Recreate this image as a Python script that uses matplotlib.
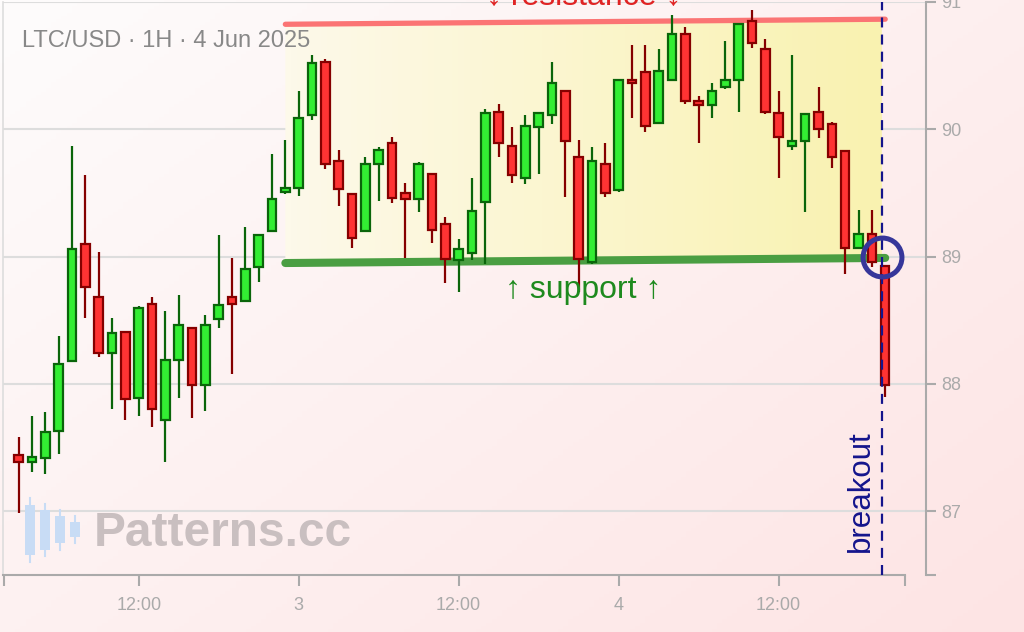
import matplotlib
matplotlib.use("Agg")
import matplotlib.pyplot as plt
import numpy as np
import pandas as pd
from matplotlib.patches import Polygon, Rectangle
from matplotlib.colors import LinearSegmentedColormap

plt.rcParams['font.family'] = ['Liberation Sans', 'DejaVu Sans']

# LTC/USD hourly candles, 2 Jun 03:00 -> 4 Jun 20:00 (2025)
times = pd.date_range("2025-06-02 03:00", periods=66, freq="h")
opens = [87.44, 87.39, 87.42, 87.63, 88.18, 89.10, 88.68, 88.24, 88.41, 87.89,
         88.63, 87.72, 88.19, 88.44, 87.99, 88.51, 88.68, 88.65, 88.92, 89.20,
         89.51, 89.54, 90.11, 90.53, 89.75, 89.49, 89.20, 89.73, 89.89, 89.50,
         89.45, 89.65, 89.26, 88.97, 89.03, 89.43, 90.14, 89.87, 89.62, 90.02,
         90.11, 90.30, 89.78, 88.96, 89.73, 89.52, 90.39, 90.45, 90.05, 90.39,
         90.75, 90.22, 90.19, 90.33, 90.39, 90.85, 90.63, 90.13, 89.87, 89.91,
         90.14, 90.04, 89.83, 89.07, 89.18, 88.93]
highs = [87.58, 87.75, 87.78, 88.38, 89.87, 89.64, 89.04, 88.52, 88.42, 88.61,
         88.68, 88.57, 88.70, 88.44, 88.54, 89.17, 88.99, 89.23, 89.17, 89.81,
         89.92, 90.30, 90.58, 90.55, 89.84, 89.50, 89.78, 89.86, 89.94, 89.58,
         89.74, 89.65, 89.31, 89.14, 89.62, 90.16, 90.20, 90.02, 90.11, 90.13,
         90.53, 90.30, 89.92, 89.86, 89.89, 90.39, 90.66, 90.66, 90.63, 90.90,
         90.80, 90.26, 90.36, 90.69, 90.83, 90.94, 90.71, 90.30, 90.58, 90.13,
         90.33, 90.06, 89.84, 89.37, 89.37, 88.93]
lows = [86.99, 87.31, 87.29, 87.45, 88.18, 88.52, 88.21, 87.80, 87.72, 87.75,
        87.66, 87.39, 87.89, 87.73, 87.79, 88.44, 88.08, 88.65, 88.80, 89.20,
        89.49, 89.48, 90.07, 89.69, 89.40, 89.07, 89.20, 89.44, 89.42, 88.99,
        89.35, 89.11, 88.79, 88.72, 88.97, 88.94, 89.78, 89.58, 89.57, 89.65,
        90.04, 89.47, 88.72, 88.94, 89.47, 89.51, 90.09, 89.98, 90.05, 90.38,
        90.20, 89.89, 90.09, 90.32, 90.14, 90.64, 90.12, 89.62, 89.84, 89.35,
        89.93, 89.70, 88.86, 89.07, 88.92, 87.90]
closes = [87.39, 87.43, 87.62, 88.16, 89.06, 88.76, 88.24, 88.40, 87.88, 88.60,
          87.80, 88.19, 88.46, 87.99, 88.46, 88.62, 88.63, 88.90, 89.17, 89.45,
          89.54, 90.09, 90.52, 89.73, 89.53, 89.15, 89.73, 89.84, 89.46, 89.45,
          89.73, 89.21, 88.98, 89.06, 89.36, 90.13, 89.89, 89.64, 90.03, 90.13,
          90.36, 89.91, 88.98, 89.75, 89.50, 90.39, 90.36, 90.03, 90.46, 90.75,
          90.22, 90.19, 90.30, 90.39, 90.83, 90.68, 90.14, 89.94, 89.91, 90.12,
          90.00, 89.78, 89.07, 89.18, 88.96, 87.99]

# channel lines (start at candle 20, end at last candle)
resistance = [90.825, 90.865]
support = [88.95, 88.99]
breakout_level = 89.0
y_ticks = [87, 88, 89, 90, 91]

day0 = pd.Timestamp("2025-06-03")
hrs = ((times - day0) / pd.Timedelta("1h")).to_numpy()
o = np.array(opens); h = np.array(highs); l = np.array(lows); c = np.array(closes)
up = c >= o

fig = plt.figure(figsize=(10.24, 6.32), dpi=100)

# background gradient
bg = fig.add_axes([0, 0, 1, 1], zorder=-10)
gx, gy = np.meshgrid(np.linspace(0, 1, 200), np.linspace(0, 1, 200))
g = np.clip(0.55 * gx + 0.45 * gy, 0, 1)
bg_cmap = LinearSegmentedColormap.from_list("bg", ["#fefcfc", "#fde4e4"])
bg.imshow(g, cmap=bg_cmap, aspect="auto", extent=(0, 1, 0, 1), origin="upper")
bg.axis("off")

ax = fig.add_axes([3 / 1024, 57 / 632, 923 / 1024, 573 / 632])
ax.set_facecolor("none")
x_lo, x_hi = -22.18, 47.06
ax.set_xlim(x_lo, x_hi)
ax.set_ylim(86.5, 91.0)

x_start = hrs[20]
x_end = hrs[-1]
brk_x = hrs[-1] - 0.25

# yellow channel fill
band = Polygon([(x_start, support[0]), (brk_x, np.interp(brk_x, [x_start, x_end], support)),
                (brk_x, np.interp(brk_x, [x_start, x_end], resistance)), (x_start, resistance[0])],
               closed=True, facecolor="none", edgecolor="none")
ax.add_patch(band)
ycmap = LinearSegmentedColormap.from_list("yl", ["#fdf9ea", "#f9f2b0"])
im = ax.imshow(np.linspace(0, 1, 100)[None, :], cmap=ycmap, aspect="auto",
               extent=(x_start, brk_x, 88.8, 91.0), zorder=1)
im.set_clip_path(band)

ax.grid(axis="y", color="#dddddd", linewidth=1.5, zorder=0)
ax.set_axisbelow(True)

# channel lines
ax.plot([x_start, x_end], resistance, color="#fb7474", lw=3.8, solid_capstyle="round", zorder=2)
ax.plot([x_start, x_end], support, color="#4a9e42", lw=5.8, solid_capstyle="round", zorder=2)

# candles
w = 0.64
ax.vlines(hrs[up], l[up], h[up], color="#0a650a", lw=1.6, zorder=3)
ax.vlines(hrs[~up], l[~up], h[~up], color="#850000", lw=1.6, zorder=3)
ax.bar(hrs[up], c[up] - o[up], bottom=o[up], width=w, color="#33ee33",
       edgecolor="#0a650a", linewidth=1.6, zorder=4)
ax.bar(hrs[~up], o[~up] - c[~up], bottom=c[~up], width=w, color="#ff3333",
       edgecolor="#850000", linewidth=1.6, zorder=4)

# breakout marker
ax.axvline(brk_x, color="#14148c", lw=1.6, linestyle=(0, (4.5, 3.2)), zorder=5)
ax.plot(brk_x, breakout_level, "o", ms=28, mfc="none", mec="#36369a", mew=3.6, zorder=6)
ax.text(brk_x - 1.55, 87.16, "breakout", rotation=90, color="#14148c", fontsize=22.5,
        ha="center", va="center", zorder=6)

mid = (x_start + x_end) / 2 - 0.15
ax.text(mid, 88.735, "↑ support ↑", color="#1e8a1e", fontsize=23, ha="center",
        va="center", zorder=6)
ax.text(mid, 90.985, "↓ resistance ↓", color="#e02424", fontsize=23, ha="center",
        va="baseline", zorder=6, clip_on=False)

# axes styling
ax.spines["top"].set_visible(False)
ax.spines["left"].set_color("#dddddd")
ax.spines["left"].set_linewidth(1.2)
ax.spines["right"].set_color("#aaaaaa")
ax.spines["bottom"].set_color("#aaaaaa")
ax.spines["right"].set_linewidth(1.5)
ax.spines["bottom"].set_linewidth(1.5)
x_spine_end = 45.45
ax.spines["bottom"].set_bounds(x_lo, x_spine_end)

ax.yaxis.tick_right()
ax.set_yticks(y_ticks)
ax.set_yticks([86.5], minor=True)
ax.tick_params(axis="y", which="both", length=7, width=1.5, color="#aaaaaa",
               labelcolor="#aaaaaa", labelsize=13, pad=4)

tick_times = pd.date_range("2025-06-02 12:00", "2025-06-04 12:00", freq="12h")
tick_pos = ((tick_times - day0) / pd.Timedelta("1h")).to_numpy()
tick_lab = [str(t.day) if t.hour == 0 else t.strftime("%H:%M") for t in tick_times]
ax.set_xticks(tick_pos)
ax.set_xticklabels(tick_lab)
ax.set_xticks([x_lo + 0.05, x_spine_end], minor=True)
ax.tick_params(axis="x", which="both", length=8, width=1.5, color="#aaaaaa",
               labelcolor="#aaaaaa", labelsize=13, pad=8)

# title and watermark
fig.text(22 / 1024, 1 - 41 / 632, "LTC/USD · 1H · 4 Jun 2025", color="#888888",
         fontsize=17, ha="left", va="center")
fig.text(94 / 1024, 1 - 534 / 632, "Patterns.cc", color="#c9bfc0", fontsize=34.5,
         fontweight="bold", ha="left", va="center")
logo = [(30, 505, 555, 498, 562), (45, 510, 550, 504, 556),
        (60, 516, 543, 510, 550), (75, 522, 537, 516, 543)]
for cx, bt, bb, wt, wb in logo:
    fig.add_artist(plt.Line2D([cx / 1024, cx / 1024], [1 - wt / 632, 1 - wb / 632],
                              color="#c8dcf5", lw=1.5))
    fig.add_artist(Rectangle(((cx - 5) / 1024, 1 - bb / 632), 10 / 1024, (bb - bt) / 632,
                             facecolor="#c8dcf5", edgecolor="none"))

fig.savefig("out.png", dpi=100)
